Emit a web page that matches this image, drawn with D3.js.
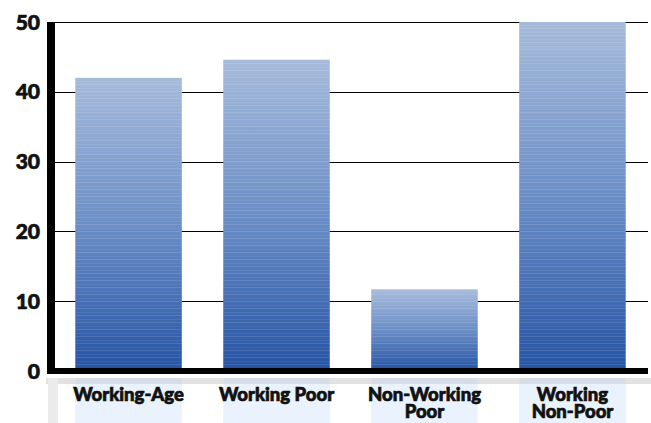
<!doctype html>
<html>
<head>
<meta charset="utf-8">
<script src="https://d3js.org/d3.v7.min.js"></script>
<style>
  body { margin:0; background:#fff; }
  text { font-family: Lato, "DejaVu Sans", sans-serif; font-weight:900; fill:#111; stroke:#111; stroke-width:0.7px; }
</style>
</head>
<body>
<svg></svg>
<script>
var w = 651, h = 423;

var categories = ["Working-Age", "Working Poor", "Non-Working Poor", "Working Non-Poor"];
var labelLines = [["Working-Age"], ["Working Poor"], ["Non-Working", "Poor"], ["Working", "Non-Poor"]];
var values = [42, 44.6, 11.7, 50];
var ticks = [0, 10, 20, 30, 40, 50];

var plotLeft = 55, plotRight = 646, plotTop = 22, plotBottom = 371;

var svg = d3.select("svg").attr("width", w).attr("height", h);

var x = d3.scaleBand().domain(categories).range([plotLeft, plotRight])
    .paddingInner(0.28).paddingOuter(0.137);
var y = d3.scaleLinear().domain([0, 50]).range([plotBottom, plotTop]);

var defs = svg.append("defs");
var grad = defs.append("linearGradient").attr("id", "barGrad")
    .attr("x1", 0).attr("y1", 0).attr("x2", 0).attr("y2", 1);
grad.append("stop").attr("offset", "0%").attr("stop-color", "#a6bbdb");
grad.append("stop").attr("offset", "50%").attr("stop-color", "#6b8ec6");
grad.append("stop").attr("offset", "100%").attr("stop-color", "#2553a4");

var stripes = defs.append("pattern").attr("id", "stripes")
    .attr("patternUnits", "userSpaceOnUse").attr("width", 10).attr("height", 7);
stripes.append("rect").attr("y", 0).attr("width", 10).attr("height", 1)
    .attr("fill", "#fff").attr("opacity", 0.12);
stripes.append("rect").attr("y", 4).attr("width", 10).attr("height", 1)
    .attr("fill", "#fff").attr("opacity", 0.07);

// label band
svg.append("rect").attr("x", 46).attr("y", 378).attr("width", w - 46).attr("height", 6)
    .attr("fill", "#e2e2e2");
svg.append("rect").attr("x", 48).attr("y", 378).attr("width", 10).attr("height", h - 378)
    .attr("fill", "#ebebeb");
svg.selectAll(".lblbg").data(categories).enter().append("rect")
    .attr("x", function(d) { return x(d); })
    .attr("y", 378)
    .attr("width", x.bandwidth())
    .attr("height", h - 378)
    .attr("fill", "#e9f2fd");
svg.selectAll(".lblbgtop").data(categories).enter().append("rect")
    .attr("x", function(d) { return x(d); })
    .attr("y", 378)
    .attr("width", x.bandwidth())
    .attr("height", 6)
    .attr("fill", "#d6dde7");

// gridlines
svg.selectAll(".grid").data(ticks.slice(1)).enter().append("line")
    .attr("x1", plotLeft).attr("x2", plotRight + 2)
    .attr("y1", function(d) { return Math.round(y(d)) + 0.5; })
    .attr("y2", function(d) { return Math.round(y(d)) + 0.5; })
    .attr("stroke", "#000").attr("stroke-width", 1.2);

// bars
svg.selectAll(".bar").data(values).enter().append("rect")
    .attr("x", function(d, i) { return x(categories[i]); })
    .attr("y", function(d) { return y(d); })
    .attr("width", x.bandwidth())
    .attr("height", function(d) { return y(0) - y(d); })
    .attr("fill", "url(#barGrad)");
svg.selectAll(".barStripe").data(values).enter().append("rect")
    .attr("x", function(d, i) { return x(categories[i]); })
    .attr("y", function(d) { return y(d); })
    .attr("width", x.bandwidth())
    .attr("height", function(d) { return y(0) - y(d); })
    .attr("fill", "url(#stripes)");

// axes
svg.append("rect").attr("x", 47).attr("y", plotTop).attr("width", 8).attr("height", plotBottom - plotTop + 3)
    .attr("fill", "#000");
svg.append("rect").attr("x", 47).attr("y", 368).attr("width", plotRight + 2 - 47).attr("height", 6)
    .attr("fill", "#000");

svg.selectAll(".tick").data(ticks).enter().append("text")
    .attr("x", 40)
    .attr("y", function(d) { return y(d); })
    .attr("dy", "0.36em")
    .attr("text-anchor", "end")
    .style("font-size", "21px")
    .text(function(d) { return d; });

var lbl = svg.selectAll(".lbl").data(labelLines).enter().append("text")
    .attr("text-anchor", "middle")
    .style("font-size", "18.5px")
    .attr("transform", function(d, i) {
        return "translate(" + (x(categories[i]) + x.bandwidth() / 2) + ",0)";
    });
lbl.selectAll("tspan").data(function(d) { return d; }).enter().append("tspan")
    .attr("x", 0)
    .attr("y", function(d, i) { return 401 + i * 17; })
    .text(function(d) { return d; });
</script>
</body>
</html>
